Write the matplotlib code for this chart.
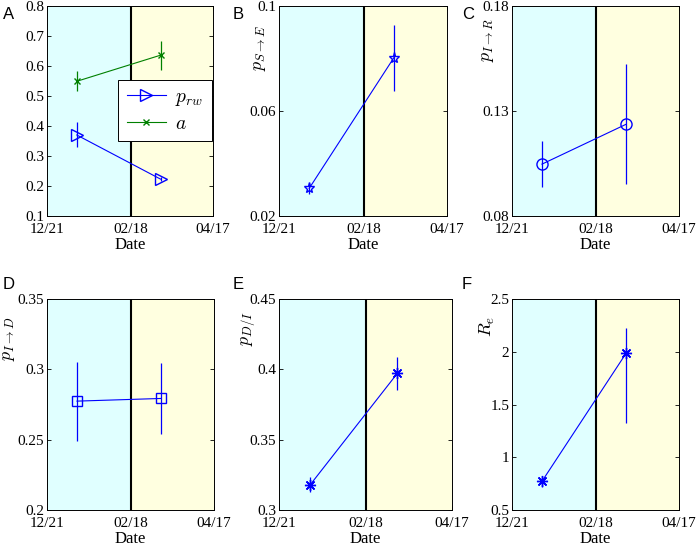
import matplotlib
matplotlib.use("Agg")
import matplotlib.pyplot as plt
import pandas as pd

plt.rcParams['font.family'] = 'Liberation Serif'
plt.rcParams['mathtext.fontset'] = 'cm'

# dates (boundaries of the two periods and estimation points)
tick_dates = pd.to_datetime(['2014-12-21', '2015-02-18', '2015-04-17'])
tick_labels = ['12/21', '02/18', '04/17']
point_dates = pd.to_datetime(['2015-01-11', '2015-03-11'])

# panel A
p_rw = [0.370, 0.223]
p_rw_lo = [0.331, 0.218]
p_rw_hi = [0.412, 0.229]
a_val = [0.549, 0.636]
a_lo = [0.516, 0.586]
a_hi = [0.582, 0.683]

# panels B-F
p_se = [0.0305, 0.0803]
p_se_lo = [0.0284, 0.0678]
p_se_hi = [0.0327, 0.0929]

p_ir = [0.1047, 0.1237]
p_ir_lo = [0.0936, 0.0954]
p_ir_hi = [0.1158, 0.1523]

p_id = [0.2774, 0.2793]
p_id_lo = [0.2494, 0.2537]
p_id_hi = [0.3054, 0.3044]

p_di = [0.3178, 0.3971]
p_di_lo = [0.3126, 0.3855]
p_di_hi = [0.3233, 0.4087]

r_e = [0.772, 1.987]
r_e_lo = [0.722, 1.326]
r_e_hi = [0.816, 2.225]

W, H = 698, 550
fig = plt.figure(figsize=(W / 100, H / 100), dpi=100)


def make_ax(l, r, t, b):
    return fig.add_axes([l / W, 1 - b / H, (r - l) / W, (b - t) / H])


def setup(ax, yticks):
    ax.axvspan(tick_dates[0], tick_dates[1], color='#e0ffff', zorder=0)
    ax.axvspan(tick_dates[1], tick_dates[2], color='#ffffe0', zorder=0)
    ax.axvline(tick_dates[1], color='black', lw=1.5, zorder=1)
    ax.set_xlim(tick_dates[0], tick_dates[2])
    ax.set_xticks(tick_dates)
    ax.set_xticklabels(tick_labels)
    ax.set_ylim(yticks[0], yticks[-1])
    ax.set_yticks(yticks)
    ax.set_yticklabels(['%g' % v for v in yticks])
    ax.tick_params(direction='in', top=True, right=True, labelsize=11,
                   length=3, width=0.6, pad=2)
    ax.tick_params(axis='x', pad=5)
    ax.set_xlabel('Date', fontsize=12, labelpad=1)
    for s in ax.spines.values():
        s.set_linewidth(0.7)


def err_plot(ax, y, lo, hi, marker, color='blue', ms=7, label=None):
    yerr = [[v - l for v, l in zip(y, lo)], [h - v for v, h in zip(y, hi)]]
    return ax.errorbar(point_dates, y, yerr=yerr, color=color, lw=0.8,
                       elinewidth=0.9, capsize=0, marker=marker, ms=ms,
                       mfc='none', mec=color, mew=1.0, label=label, zorder=3)


def ylab(ax, text, x, y):
    ax.text(x, y, text, transform=ax.transAxes, rotation=90, ha='center',
            va='center', fontsize=13)


axA = make_ax(47, 213, 6, 216)
setup(axA, [0.1, 0.2, 0.3, 0.4, 0.5, 0.6, 0.7, 0.8])
c1 = err_plot(axA, p_rw, p_rw_lo, p_rw_hi, '>', ms=8)
c2 = err_plot(axA, a_val, a_lo, a_hi, 'x', color='green', ms=5)
leg = axA.legend([c1[0], c2[0]], [r'$p_{rw}$', r'$a$'], loc='upper right',
                 bbox_to_anchor=(0.995, 0.648), fontsize=14,
                 fancybox=False, edgecolor='black', framealpha=1,
                 handlelength=2.0, borderpad=0.45, labelspacing=0.35,
                 handletextpad=0.5, borderaxespad=0)
leg.get_frame().set_linewidth(0.7)

axB = make_ax(279, 447, 6, 216)
setup(axB, [0.02, 0.06, 0.1])
err_plot(axB, p_se, p_se_lo, p_se_hi, '*', ms=8)
ylab(axB, r'$p_{S\rightarrow E}$', -0.115, 0.80)

axC = make_ax(512, 679, 6, 216)
setup(axC, [0.08, 0.13, 0.18])
err_plot(axC, p_ir, p_ir_lo, p_ir_hi, 'o', ms=8)
ylab(axC, r'$p_{I\rightarrow R}$', -0.145, 0.84)

axD = make_ax(47, 214, 299, 510)
setup(axD, [0.2, 0.25, 0.3, 0.35])
err_plot(axD, p_id, p_id_lo, p_id_hi, 's', ms=7)
ylab(axD, r'$p_{I\rightarrow D}$', -0.23, 0.81)

axE = make_ax(279, 452, 299, 510)
setup(axE, [0.3, 0.35, 0.4, 0.45])
err_plot(axE, p_di, p_di_lo, p_di_hi, (8, 2, 0), ms=8)
ylab(axE, r'$p_{D/I}$', -0.18, 0.86)

axF = make_ax(512, 679, 299, 510)
setup(axF, [0.5, 1, 1.5, 2, 2.5])
err_plot(axF, r_e, r_e_lo, r_e_hi, (8, 2, 0), ms=8)
ylab(axF, r'$R_e$', -0.145, 0.87)

for letter, x, y in [('A', 3, 7), ('B', 233, 7), ('C', 462, 7),
                     ('D', 3, 277), ('E', 233, 277), ('F', 462, 277)]:
    fig.text(x / W, 1 - y / H, letter, family='Liberation Sans', fontsize=12,
             ha='left', va='top')

fig.savefig('out.png', dpi=100)
